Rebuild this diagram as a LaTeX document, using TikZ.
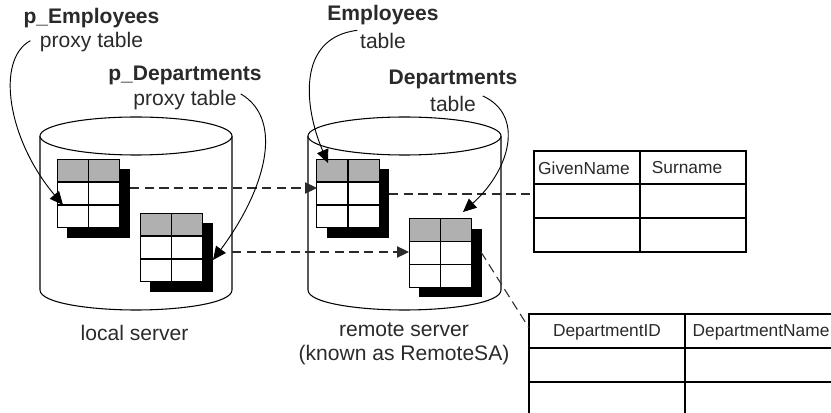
\documentclass[tikz,border=0pt]{standalone}
\usepackage{fontspec}
\setmainfont{Liberation Sans}
\usetikzlibrary{arrows.meta}
\definecolor{headgray}{HTML}{B0B0B0}
\definecolor{inkgray}{HTML}{2A2A2A}
\tikzset{
  lbl/.style={inner sep=0pt,text=inkgray,font=\fontsize{15.8}{18}\selectfont},
  lblbold/.style={lbl,font=\fontsize{15.8}{18}\selectfont\bfseries},
  colhead/.style={inner sep=0pt,text=inkgray,font=\fontsize{13}{15}\selectfont},
  smalltable/.style={draw=black,fill=white,line width=0.9pt,minimum width=47pt,minimum height=51.5pt,inner sep=0pt,outer sep=0pt},
  tableshadow/.style={fill=black,minimum width=47pt,minimum height=51.5pt,inner sep=0pt,outer sep=0pt},
  outline/.style={line width=0.8pt},
  tablerule/.style={line width=0.9pt},
  link/.style={line width=0.8pt,inkgray,dash pattern=on 7pt off 4pt},
  linkarrow/.style={link,-{Triangle[length=9pt,width=8.5pt]}},
  pointer/.style={line width=0.7pt,-{Triangle[length=10pt,width=9pt]}}
}
\begin{document}
\begin{tikzpicture}[x=0.75pt,y=-0.75pt]
\useasboundingbox (0,0) rectangle (831,413);

% servers
\draw [outline] (40,136) -- (40,290) .. controls (40,303) and (90,310) .. (136,310) .. controls (182,310) and (232,303) .. (232,290) -- (232,136);
\draw [outline,fill=white] (136,136) ellipse (96 and 19);
\draw [outline] (308,136) -- (308,290) .. controls (308,303) and (358,310) .. (404.5,310) .. controls (451,310) and (501,303) .. (501,290) -- (501,136);
\draw [outline,fill=white] (404.5,136) ellipse (96.5 and 19);

% p_Employees
\node [tableshadow] (pEmpShadow) at (98.5,203.5) {};
\node [smalltable] (pEmp) at (88.5,193.5) {};
\fill [headgray] (pEmp.north west) rectangle (120,182);
\draw [tablerule] (pEmp.north west) rectangle (pEmp.south east);
\draw [tablerule] (57,182) -- (120,182);
\draw [tablerule] (57,205) -- (120,205);
\draw [tablerule] (pEmp.north) -- (pEmp.south);

% p_Departments
\node [tableshadow] (pDepShadow) at (181.5,257.5) {};
\node [smalltable] (pDep) at (171.5,247.5) {};
\fill [headgray] (pDep.north west) rectangle (203,236);
\draw [tablerule] (pDep.north west) rectangle (pDep.south east);
\draw [tablerule] (140,236) -- (203,236);
\draw [tablerule] (140,259) -- (203,259);
\draw [tablerule] (pDep.north) -- (pDep.south);

% Employees
\node [tableshadow] (rEmpShadow) at (358,203.5) {};
\node [smalltable] (rEmp) at (348,193.5) {};
\fill [headgray] (rEmp.north west) rectangle (379.5,182);
\draw [tablerule] (rEmp.north west) rectangle (rEmp.south east);
\draw [tablerule] (317,182) -- (379,182);
\draw [tablerule] (317,205) -- (379,205);
\draw [tablerule] (rEmp.north) -- (rEmp.south);

% Departments
\node [tableshadow] (rDepShadow) at (450.5,263) {};
\node [smalltable] (rDep) at (440.5,253) {};
\fill [headgray] (rDep.north west) rectangle (472,241.5);
\draw [tablerule] (rDep.north west) rectangle (rDep.south east);
\draw [tablerule] (409,241.5) -- (472,241.5);
\draw [tablerule] (409,264.5) -- (472,264.5);
\draw [tablerule] (rDep.north) -- (rDep.south);

% columns of Employees
\draw [tablerule] (534,151) rectangle (746,252);
\draw [tablerule] (534,184) -- (746,184);
\draw [tablerule] (534,218) -- (746,218);
\draw [tablerule] (640,151) -- (640,252);
\node [colhead] (givenName) at (584,168) {GivenName};
\node [colhead] (surname) at (687,168) {Surname};

% columns of Departments
\draw [tablerule] (831,314) -- (529,314) -- (529,413);
\draw [tablerule] (529,348) -- (831,348);
\draw [tablerule] (529,382) -- (831,382);
\draw [tablerule] (685,314) -- (685,413);
\node [colhead] (departmentID) at (607,332) {DepartmentID};
\node [colhead] (departmentName) at (761,332) {DepartmentName};

% labels
\node [lblbold] (pEmpName) at (91.5,18) {p\_Employees};
\node [lbl] (pEmpKind) at (91.5,42) {proxy table};
\node [lblbold] (pDepName) at (185,75) {p\_Departments};
\node [lbl] (pDepKind) at (185,100) {proxy table};
\node [lblbold] (rEmpName) at (383,15) {Employees};
\node [lbl] (rEmpKind) at (383,41) {table};
\node [lblbold] (rDepName) at (453,79) {Departments};
\node [lbl] (rDepKind) at (453,104) {table};
\node [lbl] (localName) at (134.5,333) {local server};
\node [lbl] (remoteName) at (404,330) {remote server};
\node [lbl] (remoteNote) at (404,355) {(known as RemoteSA)};

% ends of the connectors
\coordinate (linkA) at (130,188);
\coordinate (linkAend) at (317,188);
\coordinate (linkB) at (232,252);
\coordinate (linkBend) at (409,252);
\coordinate (linkC) at (389,194);
\coordinate (linkCend) at (534,194);
\coordinate (linkD) at (481,252);
\coordinate (linkDend) at (529,328);
\coordinate (pEmpTip) at (63,205);
\coordinate (pDepTip) at (213,260);
\coordinate (rEmpTip) at (328,163);
\coordinate (rDepTip) at (463,212);

\draw [linkarrow] (linkA) to (linkAend);
\draw [linkarrow] (linkB) to (linkBend);
\draw [link] (linkC) to (linkCend);
\draw [link] (linkD) to (linkDend);

\draw [pointer] ([xshift=-7pt,yshift=1pt]pEmpKind.west) .. controls (-5,60) and (8,140) .. (pEmpTip);
\draw [pointer] ([xshift=3pt,yshift=-3pt]pDepKind.north east) .. controls (285,120) and (265,190) .. (pDepTip);
\draw [pointer] ([xshift=-2pt,yshift=2pt]rEmpKind.north west) .. controls (295,38) and (305,110) .. (rEmpTip);
\draw [pointer] ([xshift=5pt]rDepKind.north east) .. controls (525,115) and (510,170) .. (rDepTip);

\end{tikzpicture}
\end{document}
